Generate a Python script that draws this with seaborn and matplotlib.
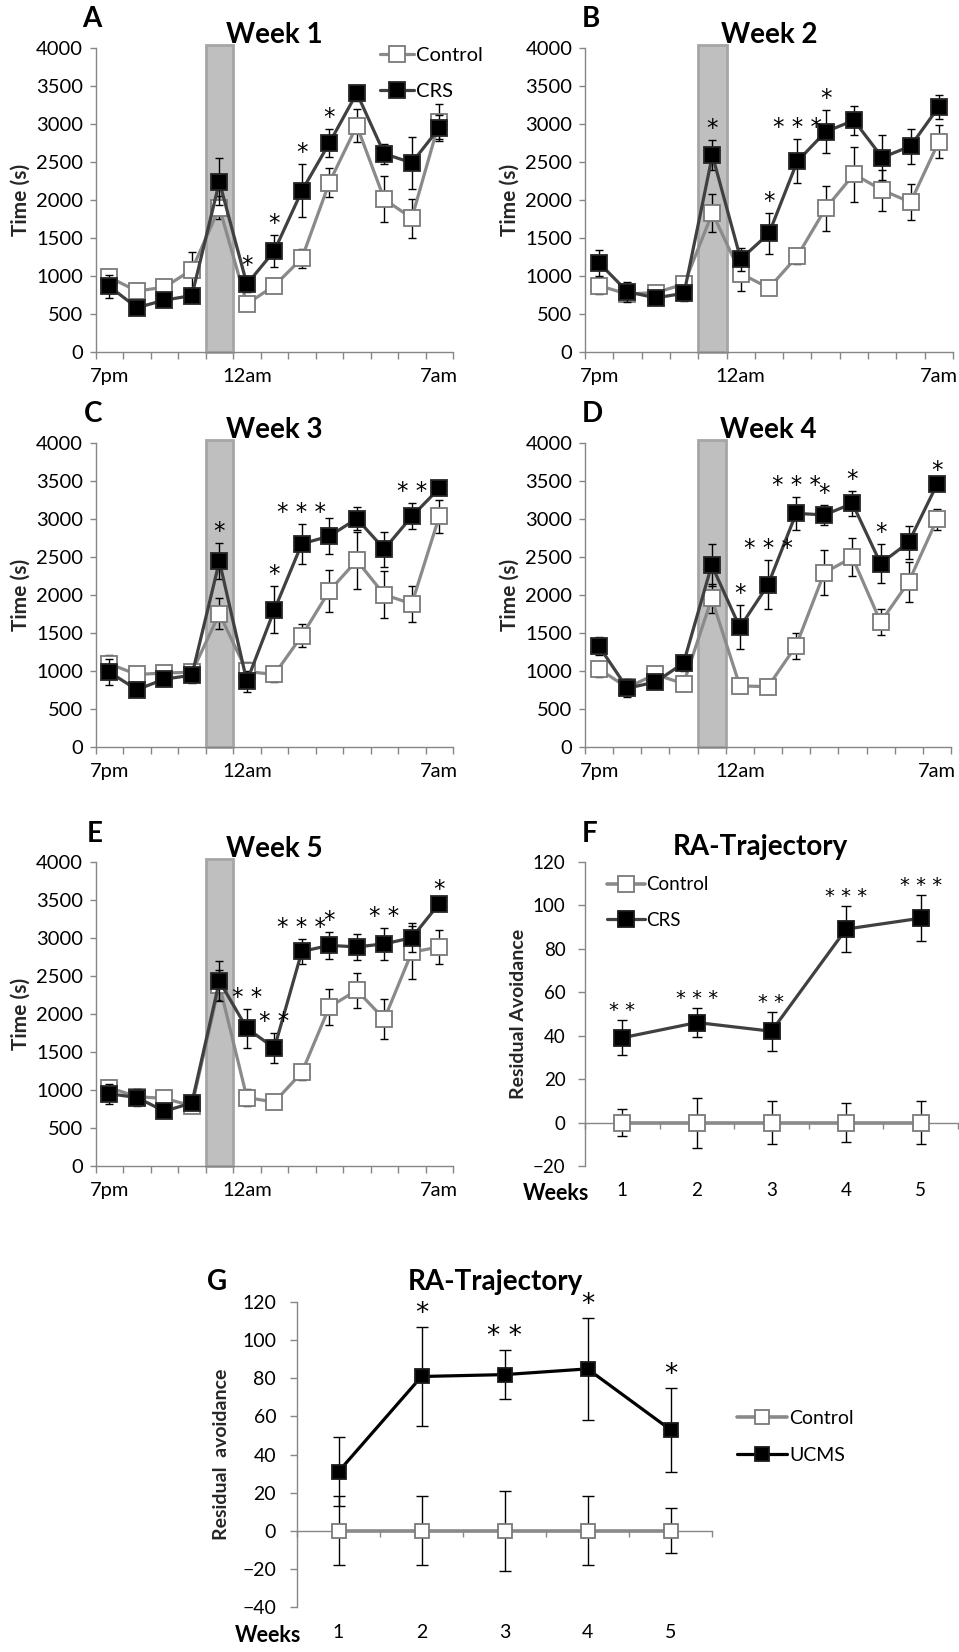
import numpy as np
import matplotlib
matplotlib.use("Agg")
import matplotlib.pyplot as plt
import seaborn as sns

# ---------------- data ----------------
HOURS = ['7pm', '8pm', '9pm', '10pm', '11pm', '12am', '1am', '2am', '3am',
         '4am', '5am', '6am', '7am']
HOUR_TICK_LABELS = ['7pm', '', '', '', '', '12am', '', '', '', '', '', '', '7am']
DARK_HOUR = 4          # shaded hour (11pm)
SHADE_TOP = 4040

ctrl_A = [980, 800, 850, 1080, 1900, 630, 870, 1230, 2230, 2980, 2010, 1760, 3030]
ctrl_A_err = [90, 110, 100, 240, 150, 60, 50, 120, 190, 220, 300, 255, 230]
crs_A = [860, 580, 680, 740, 2240, 890, 1330, 2120, 2750, 3410, 2610, 2490, 2950]
crs_A_err = [150, 80, 50, 90, 310, 100, 215, 350, 180, 100, 130, 340, 170]
stars_A = {5: '*', 6: '*', 7: '*', 8: '*'}

ctrl_B = [870, 760, 780, 890, 1830, 1030, 840, 1260, 1890, 2340, 2130, 1970, 2770]
ctrl_B_err = [110, 60, 60, 110, 250, 230, 50, 110, 300, 360, 270, 240, 220]
crs_B = [1170, 790, 710, 770, 2590, 1220, 1560, 2510, 2900, 3050, 2560, 2710, 3230]
crs_B_err = [170, 130, 60, 100, 200, 150, 270, 290, 285, 190, 300, 230, 160]
stars_B = {4: '*', 6: '*', 7: '***', 8: '*'}

ctrl_C = [1090, 950, 970, 980, 1750, 990, 950, 1460, 2050, 2450, 2000, 1880, 3030]
ctrl_C_err = [110, 70, 70, 60, 200, 130, 100, 150, 280, 370, 310, 240, 220]
crs_C = [980, 750, 890, 940, 2440, 860, 1800, 2670, 2770, 3000, 2600, 3030, 3400]
crs_C_err = [170, 50, 90, 100, 240, 140, 310, 260, 240, 150, 230, 170, 50]
stars_C = {4: '*', 6: '*', 7: '***', 11: '**'}

ctrl_D = [1020, 780, 950, 830, 1950, 800, 790, 1330, 2290, 2490, 1640, 2170, 2990]
ctrl_D_err = [100, 80, 80, 100, 190, 100, 100, 170, 300, 250, 170, 260, 140]
crs_D = [1320, 770, 850, 1100, 2390, 1570, 2130, 3070, 3050, 3200, 2410, 2690, 3450]
crs_D_err = [120, 120, 80, 110, 280, 290, 320, 220, 130, 160, 260, 220, 30]
stars_D = {5: '*', 6: '***', 7: '***', 8: '*', 9: '*', 10: '*', 12: '*'}

ctrl_E = [1030, 910, 890, 790, 2380, 900, 840, 1230, 2090, 2310, 1930, 2810, 2880]
ctrl_E_err = [100, 90, 70, 50, 200, 110, 40, 100, 240, 230, 260, 350, 220]
crs_E = [950, 900, 720, 830, 2430, 1810, 1550, 2820, 2900, 2880, 2920, 3000, 3450]
crs_E_err = [130, 110, 40, 50, 260, 260, 200, 170, 180, 170, 210, 190, 30]
stars_E = {5: '**', 6: '**', 7: '***', 8: '*', 10: '**', 12: '*'}

WEEKS = ['1', '2', '3', '4', '5']
ctrl_F = [0, 0, 0, 0, 0]
ctrl_F_err = [6, 11.5, 9.7, 9, 10]
crs_F = [39, 46, 42, 89, 94]
crs_F_err = [8, 6.5, 9, 10.5, 10.5]
stars_F = {0: '**', 1: '***', 2: '**', 3: '***', 4: '***'}

ctrl_G = [0, 0, 0, 0, 0]
ctrl_G_err = [18, 18, 21, 18, 12]
ucms_G = [31, 81, 82, 85, 53]
ucms_G_err = [18, 26, 13, 27, 22]
stars_G = {1: '*', 2: '**', 3: '*', 4: '*'}

# ---------------- style ----------------
sns.set_style('white')
plt.rcParams['font.family'] = ['Lato', 'DejaVu Sans']
plt.rcParams['text.color'] = 'black'
plt.rcParams['xtick.color'] = 'black'
plt.rcParams['ytick.color'] = 'black'

W, H = 959, 1652
fig = plt.figure(figsize=(W / 100, H / 100), dpi=100)

SPINE = '#868686'
CTRL_LINE = '#8a8a8a'
CTRL_EDGE = '#7a7a7a'
CRS_LINE = '#404040'
STAR_FONT = ['DejaVu Sans']


def rect(left, top, right, bottom):
    return [left / W, 1 - bottom / H, (right - left) / W, (bottom - top) / H]


def base_style(ax):
    for s in ['top', 'right']:
        ax.spines[s].set_visible(False)
    for s in ['left', 'bottom']:
        ax.spines[s].set_color(SPINE)
        ax.spines[s].set_linewidth(1)


def series(ax, x, y, err, label, line_color, face, edge, lw, ms, cap, z):
    ax.errorbar(x, y, yerr=err, fmt='none', ecolor='black', elinewidth=1,
                capsize=cap, capthick=1, zorder=z)
    sns.lineplot(x=x, y=y, ax=ax, color=line_color, linewidth=lw, marker='s',
                 markersize=ms, markerfacecolor=face, markeredgecolor=edge,
                 markeredgewidth=1.3, label=label, zorder=z + 1)


def add_stars(ax, x, vals, errs, stars, size, dy):
    for i, s in stars.items():
        ax.annotate(' '.join(s), (x[i], vals[i] + errs[i]),
                    xytext=(0, dy), textcoords='offset points', ha='center',
                    va='bottom', fontsize=size, family=STAR_FONT,
                    annotation_clip=False, zorder=7)


def time_panel(r, title, ctrl, ctrl_err, crs, crs_err, stars, legend=False):
    ax = fig.add_axes(r)
    base_style(ax)
    x = np.arange(len(HOURS))
    ax.bar([DARK_HOUR], [SHADE_TOP], width=1.0, color='#bfbfbf',
           edgecolor='#a6a6a6', linewidth=2, zorder=1, clip_on=False)
    series(ax, x, ctrl, ctrl_err, 'Control', CTRL_LINE, 'white', CTRL_EDGE,
           2.3, 11.5, 3, 2)
    series(ax, x, crs, crs_err, 'CRS', CRS_LINE, 'black', '#262626',
           2.3, 11.5, 3, 4)
    add_stars(ax, x, crs, crs_err, stars, 16.5, 0)
    ax.set_xlim(-0.5, len(HOURS) - 0.5)
    ax.set_ylim(0, 4000)
    ax.set_yticks(np.arange(0, 4001, 500))
    ax.set_xticks(x, HOUR_TICK_LABELS)
    ax.set_xticks(np.arange(-0.5, len(HOURS), 1), minor=True)
    ax.tick_params(axis='x', which='major', length=0, pad=11.5, labelsize=14.5,
                   bottom=True)
    ax.tick_params(axis='x', which='minor', length=5, width=1, color=SPINE,
                   bottom=True, direction='out')
    ax.tick_params(axis='y', length=4, width=1, color=SPINE, pad=5,
                   labelsize=14.5, left=True, direction='out')
    ax.set_xlabel('')
    ax.set_ylabel('Time (s)', fontsize=15, fontweight='bold')
    wpx = r[2] * W
    ax.yaxis.set_label_coords(-65.0 / wpx, 0.5)
    ax.set_title(title, fontsize=20, fontweight='bold', pad=1)
    if legend:
        ax.legend(loc='upper left', bbox_to_anchor=(0.796, 1.004), fontsize=14.5,
                  frameon=False, handlelength=1.7, handletextpad=0.1,
                  labelspacing=0.95, borderpad=0, borderaxespad=0)
    else:
        lg = ax.get_legend()
        if lg is not None:
            lg.remove()
    return ax


def ra_panel(r, title, title_x, title_pad, ctrl, ctrl_err, grp, grp_err,
             grp_label, grp_line, stars, ylo, ms, cap, star_size, fs,
             ylabel, ylabel_dx, ytick_pad, xtick_pad, weeks_y, leg_anchor,
             leg_handle):
    ax = fig.add_axes(r)
    base_style(ax)
    x = np.arange(len(WEEKS))
    series(ax, x, ctrl, ctrl_err, 'Control', CTRL_LINE, 'white', CTRL_EDGE,
           2.6, ms, cap, 2)
    series(ax, x, grp, grp_err, grp_label, grp_line, 'black', '#1a1a1a',
           2.3, ms, cap, 4)
    add_stars(ax, x, grp, grp_err, stars, star_size, 0)
    ax.set_xlim(-0.5, len(WEEKS) - 0.5)
    ax.set_ylim(ylo, 120)
    ax.set_yticks(np.arange(ylo, 121, 20))
    ax.spines['bottom'].set_position(('data', 0))
    ax.set_xticks(np.arange(-0.5, len(WEEKS), 1))
    ax.tick_params(axis='x', length=4, width=1, color=SPINE, bottom=True,
                   labelbottom=False, direction='out')
    ax.tick_params(axis='y', length=5, width=1, color=SPINE, pad=ytick_pad,
                   labelsize=fs, left=True, direction='out')
    sec = ax.secondary_xaxis('bottom')
    sec.set_xticks(x, WEEKS)
    sec.tick_params(length=0, pad=xtick_pad, labelsize=fs)
    sec.spines['bottom'].set_visible(False)
    ax.text(0.01, weeks_y, 'Weeks', transform=ax.transAxes, ha='right',
            va='center', fontsize=15.5, fontweight='bold')
    ax.set_xlabel('')
    ax.set_ylabel(ylabel, fontsize=14, fontweight='bold')
    wpx = r[2] * W
    ax.yaxis.set_label_coords(-ylabel_dx / wpx, 0.5)
    ax.set_title(title, fontsize=20, fontweight='bold', pad=title_pad,
                 x=title_x)
    ax.legend(loc='upper left', bbox_to_anchor=leg_anchor, fontsize=fs,
              frameon=False, handlelength=leg_handle, handletextpad=0.1,
              labelspacing=1.0, borderpad=0, borderaxespad=0)
    return ax


time_panel(rect(95.7, 48.3, 453, 351.7), 'Week 1', ctrl_A, ctrl_A_err,
           crs_A, crs_A_err, stars_A, legend=True)
time_panel(rect(585, 48.3, 953, 351.7), 'Week 2', ctrl_B, ctrl_B_err,
           crs_B, crs_B_err, stars_B)
time_panel(rect(95.7, 442.7, 453, 746.7), 'Week 3', ctrl_C, ctrl_C_err,
           crs_C, crs_C_err, stars_C)
time_panel(rect(585, 442.7, 951, 746.7), 'Week 4', ctrl_D, ctrl_D_err,
           crs_D, crs_D_err, stars_D)
time_panel(rect(95.7, 861.7, 453, 1166), 'Week 5', ctrl_E, ctrl_E_err,
           crs_E, crs_E_err, stars_E)

ra_panel(rect(585, 861.7, 958, 1166), 'RA-Trajectory', 0.469, 4.8,
         ctrl_F, ctrl_F_err, crs_F, crs_F_err, 'CRS', CRS_LINE, stars_F,
         -20, 11.5, 3.5, 14, 13.5, 'Residual Avoidance', 57.6, 9, 11.5,
         -0.089, (0.059, 0.952), 2.0)
ra_panel(rect(297, 1302.3, 712, 1606.7), 'RA-Trajectory', 0.477, 8.9,
         ctrl_G, ctrl_G_err, ucms_G, ucms_G_err, 'UCMS', 'black', stars_G,
         -40, 9.5, 4, 19, 14, 'Residual  avoidance', 66.6, 10, 12.3,
         -0.093, (1.060, 0.646), 2.6)

# panel letters
for letter, (cx, base) in {'A': (92, 27), 'B': (591, 27), 'C': (93, 422),
                           'D': (592, 422), 'E': (95, 842), 'F': (590, 842),
                           'G': (217, 1290)}.items():
    fig.text(cx / W, 1 - base / H, letter, ha='center', va='baseline',
             fontsize=20, fontweight='bold')

fig.savefig('out.png', dpi=100)
